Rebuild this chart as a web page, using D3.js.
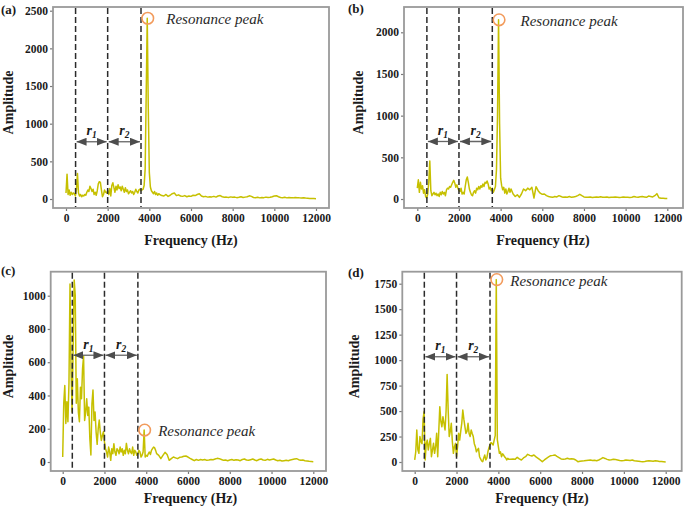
<!DOCTYPE html>
<html><head><meta charset="utf-8">
<script src="https://cdn.jsdelivr.net/npm/d3@7"></script>
<style>body{margin:0;background:#fff}</style>
</head><body>
<svg id="chart" width="685" height="510"></svg>
<script>
// Frequency sampling grid (Hz)
const freqLow = d3.range(0, 4501, 50);
const freqHigh = d3.range(4600, 12001, 100);
const freqs = freqLow.concat(freqHigh);

// Amplitude series
const ampA = [
  80, 330, 60, 120, 50, 90, 60, 80, 70, 40,
  120, 340, 80, 40, 60, 30, 50, 40, 60, 50,
  90, 120, 100, 170, 140, 100, 130, 60, 90, 50,
  110, 200, 230, 220, 120, 30, 60, 120, 90, 80,
  110, 60, 140, 40, 180, 215, 150, 90, 170, 120,
  190, 140, 160, 110, 170, 130, 90, 150, 100, 120,
  70, 90, 110, 80, 100, 60, 90, 130, 100, 80,
  120, 130, 110, 120, 130, 180, 400, 1400, 2400, 1200,
  350, 160, 110, 90, 70, 100, 60, 80, 50, 70,
  60,
  45, 40, 60, 35, 50, 70, 80, 45, 55, 40,
  35, 45, 30, 40, 35, 50, 45, 60, 70, 40,
  30, 35, 25, 30, 28, 35, 25, 40, 45, 30,
  22, 25, 20, 28, 22, 25, 18, 22, 30, 20,
  25, 30, 42, 35, 20, 18, 22, 15, 20, 18,
  25, 20, 22, 30, 40, 44, 30, 20, 18, 22,
  15, 20, 18, 15, 20, 18, 15, 14, 16, 12,
  10, 8, 6, 5, 4
];
const ampB = [
  130, 230, 80, 200, 120, 160, 70, 110, 30, 10,
  60, 200, 456, 100, 40, 60, 80, 50, 70, 40,
  60, 30, 80, 50, 90, 60, 80, 40, 110, 130,
  120, 150, 140, 170, 200, 224, 190, 140, 170, 130,
  100, 90, 130, 60, 80, 60, 150, 230, 264, 200,
  120, 80, 50, 40, 80, 100, 70, 130, 110, 150,
  120, 160, 140, 180, 150, 200, 190, 216, 180, 120,
  140, 100, 130, 80, 110, 150, 350, 1000, 2150, 900,
  250, 160, 110, 140, 70, 120, 60, 90, 130, 80,
  120,
  60, 30, 50, 20, 60, 120, 100, 130, 110, 140,
  12, 148, 100, 70, 56, 60, 40, 30, 25, 20,
  30, 25, 40, 30, 20, 25, 22, 30, 20, 25,
  30, 40, 56, 40, 25, 22, 20, 25, 18, 22,
  25, 20, 28, 22, 20, 25, 18, 22, 20, 25,
  22, 18, 20, 25, 22, 20, 18, 22, 30, 25,
  22, 28, 30, 25, 20, 35, 30, 25, 40, 64,
  15, 10, 8, 6, 5
];
const ampC = [
  30, 353, 460, 232, 363, 242, 473, 1070, 550, 300,
  700, 1094, 1004, 353, 500, 300, 242, 450, 380, 560,
  637, 250, 300, 380, 280, 330, 140, 42, 350, 433,
  250, 300, 180, 106, 200, 252, 180, 130, 160, 182,
  120, 80, 60, 30, 90, 60, 10, 80, 50, 110,
  60, 40, 80, 70, 50, 90, 60, 80, 40, 70,
  50, 112, 70, 50, 80, 60, 50, 90, 40, 70,
  60, 40, 50, 70, 60, 30, 40, 60, 192, 30,
  40, 35, 50, 60, 45, 70, 80, 90, 86, 70,
  50,
  40, 20, 40, 58, 45, 10, 20, 30, 25, 20,
  28, 30, 35, 36, 30, 22, 15, 8, 15, 10,
  15, 12, 15, 10, 12, 15, 14, 18, 22, 20,
  15, 10, 12, 8, 12, 15, 10, 14, 12, 8,
  15, 18, 12, 10, 14, 18, 12, 8, 15, 18,
  12, 10, 16, 12, 15, 18, 12, 8, 10, 6,
  8, 10, 8, 12, 15, 18, 20, 14, 10, 12,
  8, 6, 4, 3, 2
];
const ampD = [
  20, 100, 314, 120, 85, 250, 200, 180, 420, 494,
  20, 180, 215, 118, 180, 232, 52, 120, 183, 85,
  150, 281, 52, 300, 543, 400, 346, 445, 380, 314,
  500, 860, 510, 250, 300, 380, 200, 85, 150, 183,
  52, 150, 281, 215, 300, 380, 510, 420, 347, 281,
  300, 380, 280, 250, 314, 280, 250, 180, 150, 100,
  120, 134, 52, 30, 10, 3, 40, 68, 20, 40,
  100, 140, 170, 190, 180, 167, 215, 260, 1790, 220,
  150, 85, 100, 52, 80, 68, 50, 40, 20, 36,
  26,
  26, 30, 26, 46, 30, 20, 40, 52, 75, 65,
  59, 69, 50, 36, 20, 3, 20, 36, 50, 62,
  65, 69, 55, 43, 30, 26, 30, 36, 30, 32,
  29, 20, 3, 8, 10, 12, 15, 18, 20, 15,
  18, 13, 20, 30, 43, 35, 26, 20, 22, 26,
  24, 20, 15, 13, 15, 20, 18, 15, 20, 12,
  10, 8, 5, 3, 6, 10, 12, 10, 8, 13,
  10, 6, 4, 2, 0
];

const panelLabels = ["(a)", "(b)", "(c)", "(d)"];
const xTicks = [0, 2000, 4000, 6000, 8000, 10000, 12000];
const yTicksA = [0, 500, 1000, 1500, 2000, 2500];
const yTicksB = [0, 500, 1000, 1500, 2000];
const yTicksC = [0, 200, 400, 600, 800, 1000];
const yTicksD = [0, 250, 500, 750, 1000, 1250, 1500, 1750];
const bandEdges = [460, 2000, 3600];
const bandNames = ["1", "2"];
const arrowLevels = [760, 690, 642, 1033];
const peakText = "Resonance peak";
const xTitle = "Frequency (Hz)";
const yTitle = "Amplitude";

// layout
const panels = [
  {amp: ampA, ticks: yTicksA, frame: [53, 7, 329, 208], xr: [66, 316], y0: 199, yRef: [2500, 10.7],
   label: [1, 14], ytx: 12.5, xtTitle: 191, xtY: 245, tdx: 19},
  {amp: ampB, ticks: yTicksB, frame: [404, 7, 683, 208], xr: [417.3, 667.3], y0: 199, yRef: [2000, 32.3],
   label: [348, 13], ytx: 362.5, xtTitle: 543, xtY: 245, tdx: 22},
  {amp: ampC, ticks: yTicksC, frame: [50.7, 271.7, 326, 471], xr: [62.7, 313.3], y0: 462, yRef: [1000, 295.7],
   label: [1, 275], ytx: 12.5, xtTitle: 190.5, xtY: 503, tdx: 14},
  {amp: ampD, ticks: yTicksD, frame: [402.3, 271.7, 681.7, 471], xr: [414.7, 665.7], y0: 462, yRef: [1750, 283.7],
   label: [348, 277], ytx: 359, xtTitle: 542, xtY: 503, tdx: 14}
];

const svg = d3.select("#chart");
const defs = svg.append("defs");
["s", "e"].forEach(k => {
  defs.append("marker").attr("id", "arr-" + k)
    .attr("markerUnits", "userSpaceOnUse")
    .attr("viewBox", "0 0 10 8").attr("markerWidth", 10).attr("markerHeight", 8)
    .attr("refX", k === "e" ? 10 : 0).attr("refY", 4).attr("orient", "auto")
    .append("path")
    .attr("d", k === "e" ? "M0,0 L10,4 L0,8 Z" : "M10,0 L0,4 L10,8 Z")
    .attr("fill", "#4d4d4d");
});

const serif = "'Liberation Serif', 'Times New Roman', serif";
const lineColor = "#c6c000";

panels.forEach((p, i) => {
  const [L, T, R, B] = p.frame;
  const x = d3.scaleLinear().domain([0, 12000]).range(p.xr);
  const y = d3.scaleLinear().domain([0, p.yRef[0]]).range([p.y0, p.yRef[1]]);
  const g = svg.append("g");

  // axes
  const xa = g.append("g").attr("transform", `translate(0,${B})`)
    .call(d3.axisBottom(x).tickValues(xTicks).tickFormat(d3.format("d")).tickSize(3).tickPadding(3));
  const ya = g.append("g").attr("transform", `translate(${L},0)`)
    .call(d3.axisLeft(y).tickValues(p.ticks).tickFormat(d3.format("d")).tickSize(3).tickPadding(2));
  [xa, ya].forEach(a => {
    a.select(".domain").remove();
    a.selectAll(".tick line").attr("stroke", "#7a7a7a").attr("stroke-width", 1.2);
    a.selectAll(".tick text").attr("font-family", serif).attr("font-weight", "bold")
      .attr("font-size", 11.5).attr("fill", "#1a1a1a");
  });

  // frame
  g.append("rect").attr("x", L).attr("y", T).attr("width", R - L).attr("height", B - T)
    .attr("fill", "none").attr("stroke", "#9a9a9a").attr("stroke-width", 1.8);

  // signal
  const data = freqs.map((f, k) => [f, p.amp[k]]);
  g.append("path").datum(data)
    .attr("fill", "none").attr("stroke", lineColor).attr("stroke-width", 1.5)
    .attr("stroke-linejoin", "round")
    .attr("d", d3.line().x(d => x(d[0])).y(d => y(d[1])));

  // band edges
  bandEdges.forEach(b => {
    g.append("line").attr("x1", x(b)).attr("x2", x(b)).attr("y1", T + 1).attr("y2", B - 1)
      .attr("stroke", "#2b2b2b").attr("stroke-width", 1.5).attr("stroke-dasharray", "6,3");
  });

  // arrows r1, r2
  const ay = y(arrowLevels[i]);
  bandNames.forEach((n, k) => {
    const x1 = x(bandEdges[k]), x2 = x(bandEdges[k + 1]);
    g.append("line").attr("x1", x1 + 1).attr("x2", x2 - 1).attr("y1", ay).attr("y2", ay)
      .attr("stroke", "#666").attr("stroke-width", 1.3)
      .attr("marker-start", "url(#arr-s)").attr("marker-end", "url(#arr-e)");
    const t = g.append("text").attr("x", (x1 + x2) / 2).attr("y", ay - 6.5)
      .attr("text-anchor", "middle").attr("font-family", serif).attr("font-style", "italic")
      .attr("font-weight", "bold").attr("font-size", 14).attr("fill", "#1a1a1a");
    t.append("tspan").text("r");
    t.append("tspan").attr("font-size", 9.5).attr("dy", 3).text(n);
  });

  // resonance peak
  let pk = 0;
  freqs.forEach((f, k) => { if (f > 3700 && f < 4200 && p.amp[k] > p.amp[pk]) pk = k; });
  if (freqs[pk] <= 3700) pk = freqs.indexOf(3900);
  const cx = x(freqs[pk]), cy = y(p.amp[pk]);
  g.append("circle").attr("cx", cx + 0.5).attr("cy", cy).attr("r", 5.8)
    .attr("fill", "none").attr("stroke", "#f29b5c").attr("stroke-width", 1.6);
  g.append("text").attr("x", cx + p.tdx).attr("y", cy + 6)
    .attr("font-family", serif).attr("font-style", "italic").attr("font-size", 15)
    .attr("fill", "#2a2a2a").text(peakText);

  // titles
  g.append("text").attr("transform", `translate(${p.ytx},${(T + B) / 2 - 5}) rotate(-90)`)
    .attr("text-anchor", "middle").attr("font-family", serif).attr("font-weight", "bold")
    .attr("font-size", 14).attr("fill", "#1a1a1a").text(yTitle);
  g.append("text").attr("x", p.xtTitle).attr("y", p.xtY).attr("text-anchor", "middle")
    .attr("font-family", serif).attr("font-weight", "bold").attr("font-size", 14)
    .attr("fill", "#1a1a1a").text(xTitle);
  g.append("text").attr("x", p.label[0]).attr("y", p.label[1])
    .attr("font-family", serif).attr("font-weight", "bold").attr("font-size", 13)
    .attr("fill", "#1a1a1a").text(panelLabels[i]);
});
</script>
</body></html>
